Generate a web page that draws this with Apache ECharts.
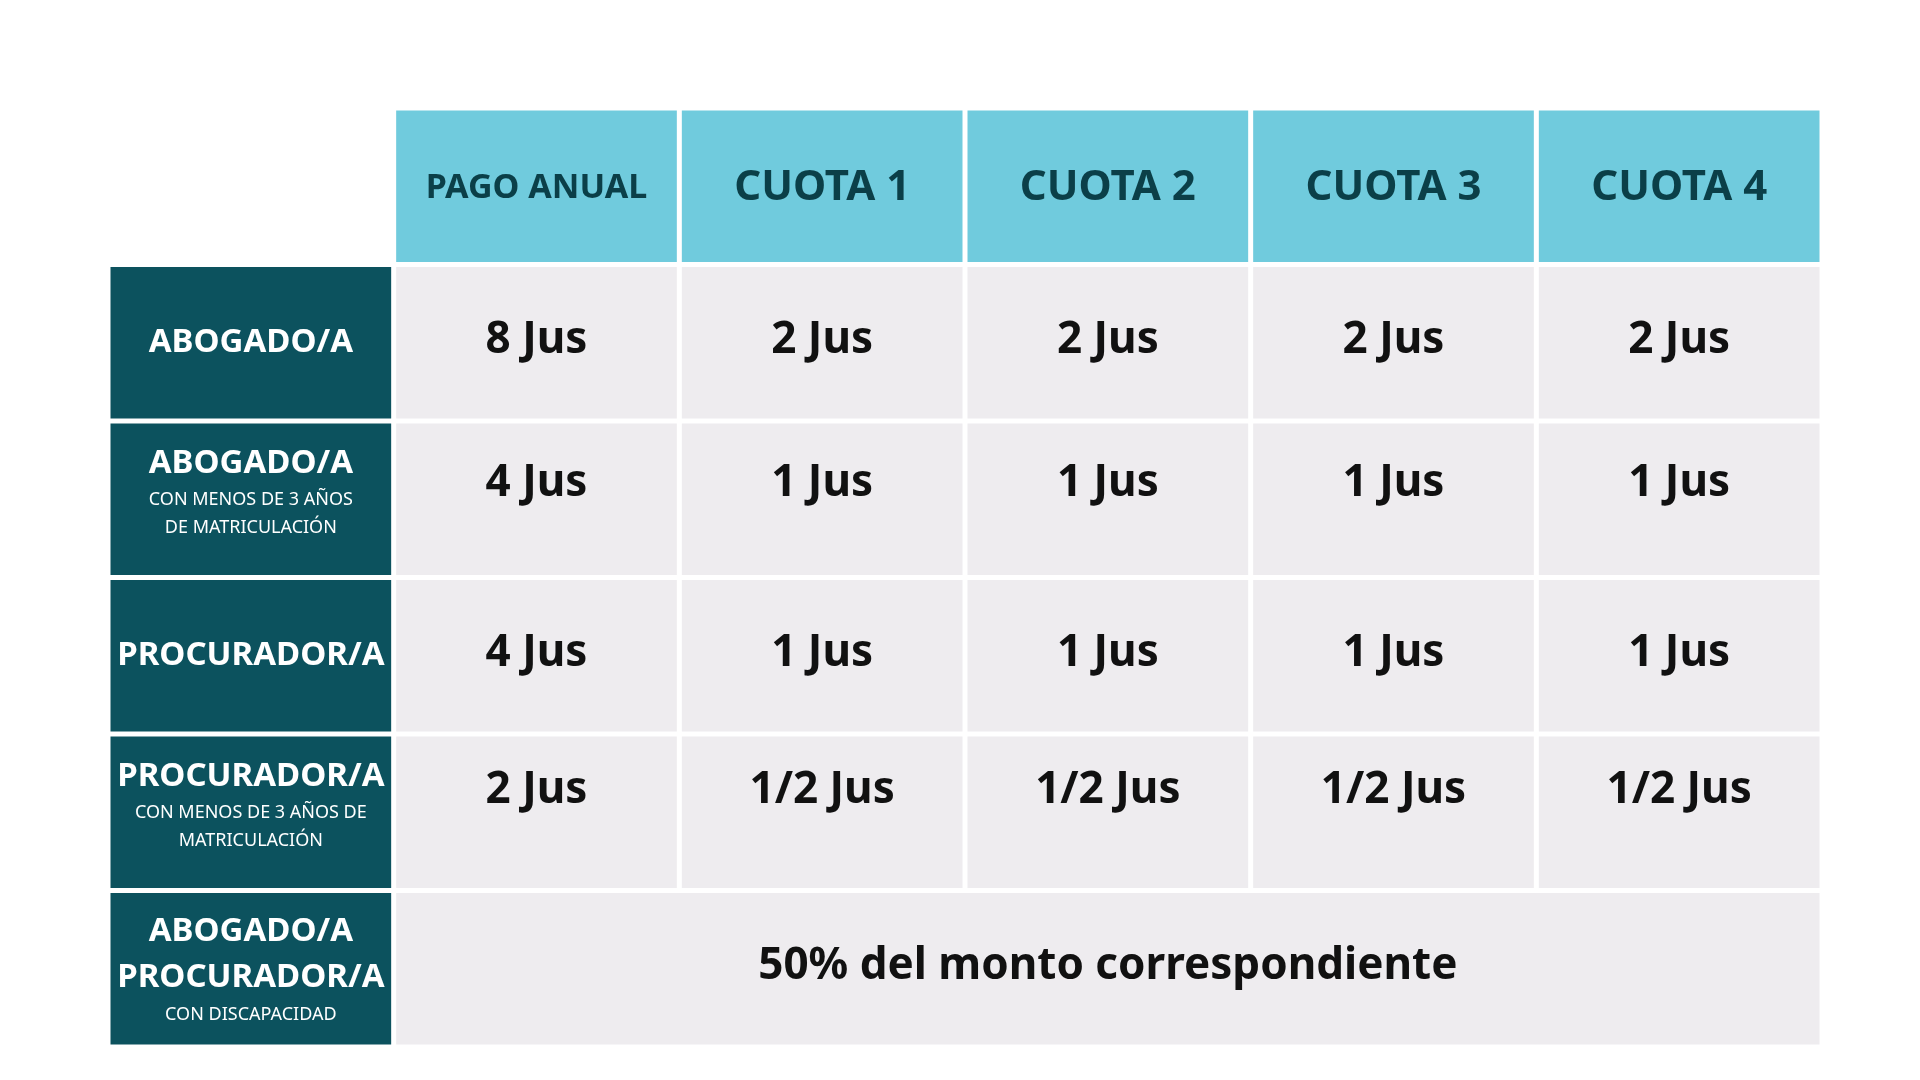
<!DOCTYPE html>
<html><head><meta charset="utf-8">
<script src="https://cdn.jsdelivr.net/npm/echarts@6/dist/echarts.min.js"></script>
<style>html,body{margin:0;background:#fff}#c{width:1920px;height:1080px}</style>
</head><body><div id="c"></div>
<script>
const columns = ['PAGO ANUAL', 'CUOTA 1', 'CUOTA 2', 'CUOTA 3', 'CUOTA 4'];
const rowTitles = ['ABOGADO/A', 'ABOGADO/A', 'PROCURADOR/A', 'PROCURADOR/A', 'ABOGADO/A\nPROCURADOR/A'];
const rowSubtitles = ['', 'CON MENOS DE 3 AÑOS\nDE MATRICULACIÓN', '', 'CON MENOS DE 3 AÑOS DE\nMATRICULACIÓN', 'CON DISCAPACIDAD'];
const values = [
  ['8 Jus', '2 Jus', '2 Jus', '2 Jus', '2 Jus'],
  ['4 Jus', '1 Jus', '1 Jus', '1 Jus', '1 Jus'],
  ['4 Jus', '1 Jus', '1 Jus', '1 Jus', '1 Jus'],
  ['2 Jus', '1/2 Jus', '1/2 Jus', '1/2 Jus', '1/2 Jus']
];
const mergedText = '50% del monto correspondiente';

const FONT = '"Noto Sans", sans-serif';
// data: [col, row, kind, text, sub, span]
const cells = [];
columns.forEach((c, i) => cells.push([i + 1, 0, 'head', c, '', 1]));
rowTitles.forEach((t, r) => cells.push([0, r + 1, 'rowhead', t, rowSubtitles[r], 1]));
values.forEach((row, r) => row.forEach((v, c) => cells.push([c + 1, r + 1, 'val', v, '', 1])));
cells.push([1, 5, 'val', mergedText, '', 5]);

const chart = echarts.init(document.getElementById('c'));
chart.setOption({
  animation: false,
  grid: { left: 108, right: 98, top: 108, bottom: 33 },
  xAxis: { type: 'category', data: [0,1,2,3,4,5], show: false },
  yAxis: { type: 'category', data: [0,1,2,3,4,5], inverse: true, show: false },
  series: [{
    type: 'custom',
    data: cells,
    renderItem: function (params, api) {
      const col = api.value(0), row = api.value(1);
      const kind = cells[params.dataIndex][2];
      const text = cells[params.dataIndex][3];
      const sub = cells[params.dataIndex][4];
      const span = cells[params.dataIndex][5];
      const p0 = api.coord([col, row]);
      const sz = api.size([1, 1]);
      const gap = 5;
      const w = sz[0] * span - gap, h = sz[1] - gap;
      const x = p0[0] - sz[0] / 2 + gap / 2, y = p0[1] - sz[1] / 2 + gap / 2;
      let fill = '#EEECEF', color = '#111111', fs = 44, fw = 700;
      if (kind === 'head') { fill = '#70CBDD'; color = '#0B3F48'; fs = text === 'PAGO ANUAL' ? 34 : 42; fw = 700; }
      if (kind === 'rowhead') { fill = '#0C525E'; color = '#ffffff'; fs = 33; fw = 700; }
      let style;
      if (kind === 'rowhead') {
        const rich = { t: { fontSize: 33, fontWeight: 700, fill: '#fff', fontFamily: FONT, lineHeight: 46, align: 'center' },
                       s: { fontSize: 18, fontWeight: 400, fill: '#fff', fontFamily: FONT, lineHeight: 28, align: 'center' } };
        const tl = text.split('\n').map(l => '{t|' + l + '}').join('\n');
        const sl = sub ? '\n' + sub.split('\n').map(l => '{s|' + l + '}').join('\n') : '';
        style = { text: tl + sl, rich: rich, x: x + w / 2, y: y + h / 2 + (sub && text.indexOf('\n') < 0 ? -8 : 0), align: 'center', verticalAlign: 'middle' };
      } else {
        style = { text: text, x: x + w / 2, y: y + h / 2 + (kind === 'head' ? 2 : -2), align: 'center', verticalAlign: 'middle',
                  fill: color, fontSize: fs, fontWeight: fw, fontFamily: FONT };
        if (kind === 'val' && row === 2) style.y -= 14;
        if (kind === 'val' && row === 4) style.y -= 20;
      }
      return { type: 'group', children: [
        { type: 'rect', shape: { x: x, y: y, width: w, height: h }, style: { fill: fill } },
        { type: 'text', style: style }
      ]};
    }
  }]
});
</script></body></html>
